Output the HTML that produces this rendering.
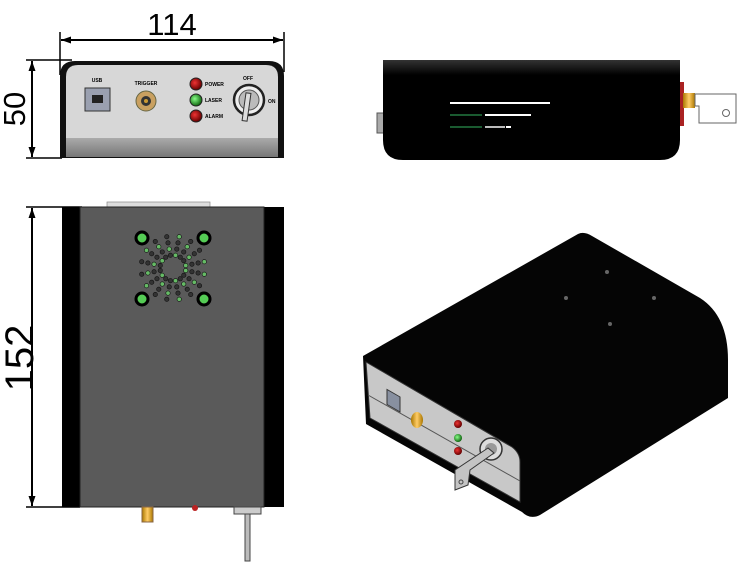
<!DOCTYPE html>
<html><head><meta charset="utf-8"><style>
html,body{margin:0;padding:0;background:#fff;}
svg{display:block;font-family:"Liberation Sans",sans-serif;}
</style></head><body>
<svg id="s" width="740" height="565" viewBox="0 0 740 565" xmlns="http://www.w3.org/2000/svg">
<defs>
<linearGradient id="strip" x1="0" y1="0" x2="0" y2="1"><stop offset="0" stop-color="#aaa"/><stop offset="1" stop-color="#777"/></linearGradient>
<linearGradient id="sideTop" x1="0" y1="0" x2="0" y2="1"><stop offset="0" stop-color="#333"/><stop offset="0.15" stop-color="#000"/><stop offset="1" stop-color="#000"/></linearGradient>
<radialGradient id="red" cx="0.4" cy="0.4" r="0.6"><stop offset="0" stop-color="#e33"/><stop offset="1" stop-color="#600"/></radialGradient>
<radialGradient id="grn" cx="0.4" cy="0.4" r="0.6"><stop offset="0" stop-color="#8f8"/><stop offset="1" stop-color="#161"/></radialGradient>
<linearGradient id="gold" x1="0" y1="0" x2="1" y2="0"><stop offset="0" stop-color="#a70"/><stop offset="0.5" stop-color="#fc6"/><stop offset="1" stop-color="#a70"/></linearGradient>
<marker id="ar" viewBox="0 0 10 10" refX="10" refY="5" markerWidth="10" markerHeight="10" orient="auto-start-reverse" markerUnits="userSpaceOnUse"><path d="M0,1.5 L10,5 L0,8.5 Z" fill="#000"/></marker>
</defs>

<!-- FRONT VIEW -->
<line x1="60" y1="32" x2="60" y2="75" stroke="#000" stroke-width="1.5"/>
<line x1="284" y1="32" x2="284" y2="72" stroke="#000" stroke-width="1.5"/>
<line x1="61" y1="40" x2="283" y2="40" stroke="#000" stroke-width="2" marker-start="url(#ar)" marker-end="url(#ar)"/>
<text x="172" y="35" font-size="31" text-anchor="middle" fill="#000">114</text>
<line x1="26" y1="60" x2="72" y2="60" stroke="#000" stroke-width="1.5"/>
<line x1="26" y1="158" x2="62" y2="158" stroke="#000" stroke-width="1.5"/>
<line x1="32" y1="61" x2="32" y2="157" stroke="#000" stroke-width="2" marker-start="url(#ar)" marker-end="url(#ar)"/>
<text transform="translate(25,109) rotate(-90)" font-size="31" text-anchor="middle" fill="#000">50</text>
<path d="M60,158 L60,76 Q60,61 75,61 L269,61 Q284,61 284,76 L284,158 Z" fill="#111"/>
<path d="M66,138 L66,77 Q66,65 78,65 L266,65 Q278,65 278,77 L278,138 Z" fill="#d7d7d7"/>
<rect x="66" y="138" width="212" height="19" fill="url(#strip)"/>
<text x="97" y="82" font-size="5" text-anchor="middle" font-weight="bold">USB</text>
<rect x="85" y="88" width="25" height="23" fill="#9aa0b0" stroke="#333"/>
<rect x="92" y="95" width="11" height="8" fill="#222"/>
<text x="146" y="85" font-size="5" text-anchor="middle" font-weight="bold">TRIGGER</text>
<circle cx="146" cy="101" r="10" fill="#c9a060" stroke="#664"/>
<circle cx="146" cy="101" r="5" fill="#333"/>
<circle cx="146" cy="101" r="2" fill="#c93"/>
<circle cx="196" cy="84" r="6" fill="url(#red)" stroke="#222"/>
<circle cx="196" cy="100" r="6" fill="url(#grn)" stroke="#222"/>
<circle cx="196" cy="116" r="6" fill="url(#red)" stroke="#222"/>
<text x="205" y="86" font-size="5" font-weight="bold">POWER</text>
<text x="205" y="102" font-size="5" font-weight="bold">LASER</text>
<text x="205" y="118" font-size="5" font-weight="bold">ALARM</text>
<text x="248" y="80" font-size="5" text-anchor="middle" font-weight="bold">OFF</text>
<text x="268" y="103" font-size="5" font-weight="bold">ON</text>
<circle cx="249" cy="100" r="15" fill="#eee" stroke="#222" stroke-width="2.5"/>
<circle cx="249" cy="100" r="10" fill="#bbb" stroke="#555"/>
<rect x="245" y="93" width="5" height="28" fill="#ddd" stroke="#333" transform="rotate(8 247 100)"/>

<!-- SIDE VIEW -->
<rect x="377" y="113" width="7" height="20" fill="#aaa" stroke="#555"/>
<path d="M383,60 L680,60 L680,140 Q680,160 660,160 L403,160 Q383,160 383,140 Z" fill="url(#sideTop)"/>
<line x1="450" y1="103" x2="550" y2="103" stroke="#fff" stroke-width="2"/>
<line x1="450" y1="115" x2="482" y2="115" stroke="#1a5a30" stroke-width="2"/>
<line x1="485" y1="115" x2="531" y2="115" stroke="#fff" stroke-width="2"/>
<line x1="450" y1="127" x2="482" y2="127" stroke="#1a5a30" stroke-width="2"/>
<line x1="485" y1="127" x2="505" y2="127" stroke="#bbb" stroke-width="2"/>
<line x1="506" y1="127" x2="511" y2="127" stroke="#fff" stroke-width="2"/>
<rect x="680" y="82" width="4" height="44" fill="#a22"/>
<rect x="683" y="93" width="12" height="15" fill="url(#gold)"/>
<path d="M695,94 L736,94 L736,123 L699,123 L699,106 L695,106 Z" fill="#fff" stroke="#666"/>
<circle cx="726" cy="113" r="3.5" fill="none" stroke="#666"/>

<!-- TOP VIEW -->
<line x1="26" y1="207" x2="82" y2="207" stroke="#000" stroke-width="1.5"/>
<line x1="26" y1="507" x2="80" y2="507" stroke="#000" stroke-width="1.5"/>
<line x1="32" y1="208" x2="32" y2="506" stroke="#000" stroke-width="2" marker-start="url(#ar)" marker-end="url(#ar)"/>
<text transform="translate(33,358) rotate(-90)" font-size="40" text-anchor="middle" fill="#000">152</text>
<rect x="107" y="202" width="103" height="6" fill="#ddd" stroke="#888" stroke-width="0.7"/>
<rect x="62" y="207" width="222" height="300" fill="#000"/>
<rect x="80" y="207" width="184" height="300" fill="#5a5a5a" stroke="#222"/>
<g id="vent"></g>
<circle cx="142" cy="238" r="6" fill="#5c5" stroke="#000" stroke-width="3"/>
<circle cx="204" cy="238" r="6" fill="#5c5" stroke="#000" stroke-width="3"/>
<circle cx="142" cy="299" r="6" fill="#5c5" stroke="#000" stroke-width="3"/>
<circle cx="204" cy="299" r="6" fill="#5c5" stroke="#000" stroke-width="3"/>
<rect x="142" y="507" width="11" height="15" fill="url(#gold)" stroke="#864"/>
<circle cx="195" cy="508" r="3" fill="#b22"/>
<rect x="234" y="507" width="27" height="7" fill="#ccc" stroke="#444"/>
<rect x="245" y="514" width="5" height="47" fill="#bbb" stroke="#444"/>

<!-- ISOMETRIC -->
<path d="M363,356 L578,234 Q584,231 592,236 L700,298 Q728,316 728,360 L728,398 L540,515 Q530,520 522,512 L366,424 Z" fill="#050505"/>
<path d="M366,362 L512,447 Q520,453 520,462 L520,502 L370,418 Z" fill="#c8c8c8" stroke="#333"/>
<line x1="368" y1="395" x2="520" y2="481" stroke="#555" stroke-width="1"/>
<rect x="387" y="390" width="13" height="15" fill="#8890a0" stroke="#333" transform="skewY(30) translate(0,-224)"/>
<ellipse cx="417" cy="420" rx="6" ry="8" fill="url(#gold)"/>
<circle cx="458" cy="424" r="4" fill="url(#red)"/>
<circle cx="458" cy="438" r="4" fill="url(#grn)"/>
<circle cx="458" cy="451" r="4" fill="url(#red)"/>
<circle cx="491" cy="449" r="11" fill="#ddd" stroke="#333" stroke-width="1.5"/>
<circle cx="491" cy="449" r="6" fill="#999"/>
<path d="M488,448 L455,470 L455,490 L468,485 L470,470 L494,453 Z" fill="#c4c4c4" stroke="#333"/>
<circle cx="461" cy="482" r="2" fill="none" stroke="#444"/>
<circle cx="607" cy="272" r="2" fill="#666"/>
<circle cx="566" cy="298" r="2" fill="#666"/>
<circle cx="654" cy="298" r="2" fill="#666"/>
<circle cx="610" cy="324" r="2" fill="#666"/>
</svg>
<script>
var g=document.getElementById('vent'),cx=173,cy=268,ns='http://www.w3.org/2000/svg';
for(var k=0;k<16;k++){var a=k*Math.PI/8+Math.PI/16;for(var j=0;j<4;j++){var r=13+j*6.3;var c=document.createElementNS(ns,'circle');
c.setAttribute('cx',cx+r*Math.cos(a));c.setAttribute('cy',cy+r*Math.sin(a));c.setAttribute('r',2.2);
c.setAttribute('fill',(k+j)%3==0?'#6b6':'#333');c.setAttribute('stroke','#111');c.setAttribute('stroke-width','0.6');g.appendChild(c);}}
</script>
</body></html>
